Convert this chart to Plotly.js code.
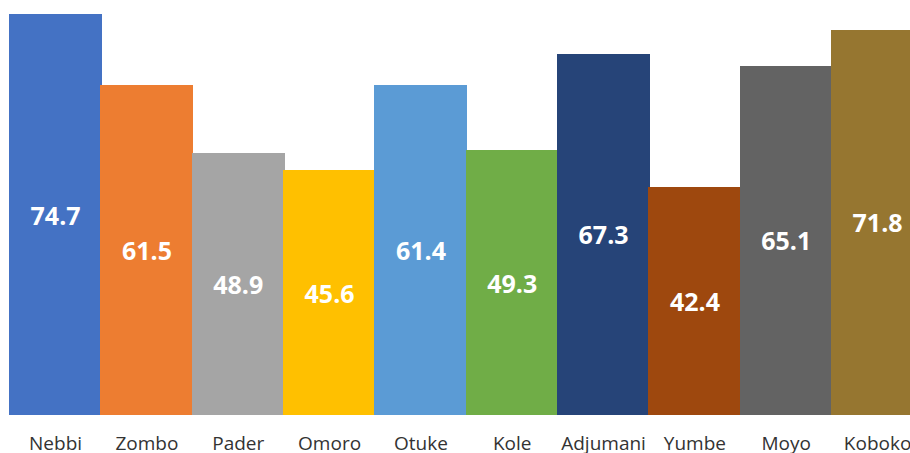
<!DOCTYPE html>
<html>
<head>
<meta charset="utf-8">
<script src="https://cdn.plot.ly/plotly-3.0.1.min.js"></script>
<style>html,body{margin:0;padding:0;background:#fff;}#chart{width:910px;height:453px;}</style>
</head>
<body>
<div id="chart"></div>
<script>
var districts = ["Nebbi", "Zombo", "Pader", "Omoro", "Otuke", "Kole", "Adjumani", "Yumbe", "Moyo", "Koboko"];
var values = [74.7, 61.5, 48.9, 45.6, 61.4, 49.3, 67.3, 42.4, 65.1, 71.8];
var barColors = ["#4472C4", "#ED7D31", "#A5A5A5", "#FFC000", "#5B9BD5", "#70AD47", "#264478", "#9E480E", "#636363", "#967630"];

var trace = {
  type: "bar",
  x: districts,
  y: values,
  width: 1.02,
  marker: {color: barColors, line: {width: 0}},
  text: values.map(function(v){ return v.toFixed(1); }),
  textposition: "inside",
  insidetextanchor: "middle",
  textangle: 0,
  textfont: {family: "Open Sans, sans-serif", size: 25, color: "#ffffff", weight: 700},
  hoverinfo: "x+y"
};

var layout = {
  width: 910,
  height: 453,
  margin: {l: 9, r: 0, t: 14, b: 38},
  paper_bgcolor: "#ffffff",
  plot_bgcolor: "#ffffff",
  showlegend: false,
  bargap: 0,
  xaxis: {
    type: "category",
    range: [-0.51, 9.355],
    showgrid: false,
    zeroline: false,
    showline: false,
    ticks: "",
    ticklabelstandoff: 15,
    tickfont: {family: "Open Sans, sans-serif", size: 19, color: "#333333"}
  },
  yaxis: {
    range: [0, 74.7],
    visible: false,
    showgrid: false,
    zeroline: false
  }
};

Plotly.newPlot("chart", [trace], layout, {displayModeBar: false, staticPlot: true});
</script>
</body>
</html>
